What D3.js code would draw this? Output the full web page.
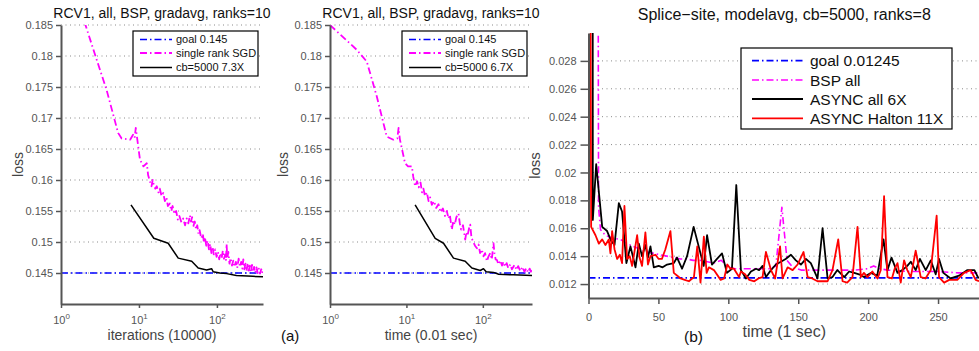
<!DOCTYPE html>
<html>
<head>
<meta charset="utf-8">
<script src="https://cdn.jsdelivr.net/npm/d3@7"></script>
<style>
body { margin: 0; background: #fff; }
svg { font-family: "Liberation Sans", Arial, Helvetica, sans-serif; }
</style>
</head>
<body>
<div id="chart"></div>
<script>
// goal levels
const goalRcv = 0.145
const goalSplice = 0.01245

// tick values
const rcvYTicks = [0.145, 0.15, 0.155, 0.16, 0.165, 0.17, 0.175, 0.18, 0.185]
const logXTicks = [1, 10, 100]
const spliceYTicks = [0.012, 0.014, 0.016, 0.018, 0.02, 0.022, 0.024, 0.026, 0.028]
const spliceXTicks = [0, 50, 100, 150, 200, 250]

// (a) left: loss vs iterations (10000)
const sgdIter = [[2.0,0.1855],[2.87,0.1794],[3.85,0.1745],[5.4,0.1676],[6.0,0.1667],[7.7,0.1665],[8.4,0.1673],[8.8,0.1668],[9.1,0.1684],
    [10.3,0.1633],[11.4,0.1622],[12.6,0.1627],[13.1,0.1608],[13.8,0.1598],[14.5,0.159],[15.0,0.16],[15.5,0.1592],[16.2,0.1586],
    [16.9,0.159],[17.8,0.158],[18.5,0.1586],[19.5,0.1574],[20.5,0.1579],[21.5,0.1566],[22.5,0.1572],[23.5,0.1558],[24.9,0.1562],
    [26,0.155],[27,0.1558],[28.5,0.1545],[30,0.155],[31.5,0.1536],[33,0.1542],[35,0.1532],[37,0.1538],[39,0.1527],[41,0.1538],
    [43,0.153],[45,0.1543],[46.5,0.1533],[48,0.154],[50,0.1526],[52,0.1533],[54,0.152],[56,0.1527],[58,0.1513],[60,0.1519],
    [63,0.1506],[66,0.1513],[68,0.15],[70,0.1508],[73,0.1494],[76,0.1502],[79,0.1488],[82,0.1497],[85,0.1482],[88,0.1492],
    [91,0.148],[95,0.1488],[99,0.1476],[103,0.1484],[107,0.1472],[111,0.1482],[115,0.1474],[119,0.1486],[123,0.1473],
    [128,0.148],[131,0.147],[133,0.1497],[136,0.1474],[140,0.1484],[145,0.1465],[150,0.1474],[156,0.1462],[162,0.147],
    [168,0.146],[175,0.1468],[182,0.1458],[190,0.1473],[197,0.146],[205,0.1468],[212,0.1457],[218,0.1472],[225,0.1456],
    [232,0.1465],[240,0.1453],[248,0.1466],[256,0.1454],[265,0.1462],[273,0.1451],[282,0.1463],[290,0.1452],[300,0.146],
    [310,0.145],[322,0.1459],[333,0.145],[345,0.1457],[357,0.1449],[370,0.1456],[380,0.145],[390,0.1454]]
const cbIter = [[7.9,0.156],[15.5,0.1506],[23.7,0.1498],[31.9,0.1474],[47.5,0.1469],[57.5,0.1458],[73.7,0.1455],[85.4,0.1457],
    [89.6,0.1452],[109,0.145],[133,0.1449],[178,0.1446],[290,0.14446],[390,0.1444]]

// (a) right: loss vs time (0.01 sec)
const sgdTime = [[1,0.185],[2.24,0.181],[3.03,0.1791],[4.09,0.1735],[5.53,0.167],[6.75,0.1665],[7.6,0.1667],[7.9,0.1684],[8.2,0.1666],
    [9.6,0.1627],[10.5,0.1622],[11.8,0.1622],[12.3,0.1605],[13,0.159],[13.8,0.1598],[14.5,0.1588],[15.3,0.1596],[16,0.158],
    [16.7,0.1586],[17.5,0.1574],[18.5,0.158],[19.5,0.1566],[20.4,0.1572],[21.5,0.156],[23,0.1566],[24.5,0.1555],[26.3,0.1561],
    [28,0.1548],[30,0.1554],[32,0.1542],[33.8,0.155],[35.5,0.1538],[37,0.1544],[39.3,0.152],[41,0.1534],[43,0.1528],[45,0.154],
    [48,0.1546],[50,0.153],[52,0.152],[55,0.1527],[58.8,0.1504],[61,0.1516],[63,0.151],[66,0.1522],[68.4,0.1528],[71,0.1507],
    [75,0.15],[79,0.1494],[83.7,0.149],[88,0.1496],[92,0.1482],[97,0.1488],[102,0.1477],[107,0.1482],[113,0.1469],[118,0.1476],
    [125,0.1482],[131,0.1472],[138,0.1498],[142,0.1482],[147,0.1472],[153,0.1471],[160,0.1464],[170,0.147],[178,0.1462],
    [186,0.1468],[195,0.146],[205,0.1466],[215,0.1458],[229,0.1464],[240,0.1456],[260,0.1463],[275,0.1455],[290,0.1461],
    [310,0.1453],[330,0.146],[350,0.1452],[370,0.1458],[390,0.1451],[410,0.1457],[425,0.1452],[440,0.1455]]
const cbTime = [[13,0.156],[23.8,0.1506],[30.6,0.1498],[41.3,0.1474],[58.8,0.1469],[71.9,0.1458],[92.5,0.1454],[102,0.1457],
    [110.6,0.1452],[138,0.1451],[161,0.1448],[250,0.1447],[440,0.1446]]

// (b) Splice-site: loss vs time (1 sec)
const bspAll = [[6.9,0.035],[7.2,0.0175],[8.6,0.0159],[12,0.0155],[16.9,0.0153],[22.9,0.0152],[27.6,0.0149],[32,0.0147],[37,0.0145],
    [42,0.0143],[46.7,0.0142],[51,0.0141],[56,0.014],[61,0.0139],[65.7,0.0138],[70,0.0138],[75,0.0137],[80,0.0137],[85,0.0136],
    [89.5,0.0135],[95,0.0137],[100,0.0132],[105,0.0131],[110,0.0131],[120,0.0131],[130,0.0131],[134,0.0133],[138.3,0.0175],
    [142,0.0137],[146,0.0132],[152,0.013],[160,0.013],[170,0.013],[180,0.013],[190,0.013],[199.5,0.0131],[204,0.0133],
    [208,0.0131],[214,0.013],[230,0.0129],[250,0.0129],[265,0.0128],[280,0.0128]]
const asyncAll = [[3.0,0.035],[3.1,0.0166],[5.5,0.0206],[9.8,0.0161],[13.3,0.0158],[16.2,0.0151],[18.6,0.0148],[21.7,0.0178],
    [24,0.0172],[27.1,0.0135],[30,0.0147],[33.6,0.0132],[36,0.0149],[38.3,0.014],[40.7,0.0148],[42.5,0.0139],[44.3,0.0147],
    [46.7,0.0132],[50.2,0.0133],[53,0.0132],[56.2,0.0134],[61,0.0135],[63.3,0.0139],[66.9,0.0131],[70.5,0.014],[75.2,0.0161],
    [78.8,0.0147],[82.4,0.0133],[84.8,0.0155],[88.3,0.0134],[91.9,0.0138],[95.5,0.0142],[99,0.0128],[102.6,0.0131],
    [105.7,0.0191],[109,0.013],[112.6,0.0124],[116.2,0.0129],[119.8,0.0131],[122,0.013],[124.5,0.0133],[126.9,0.0125],
    [130.5,0.013],[134,0.0134],[137.6,0.0136],[141,0.0138],[144.8,0.0141],[148.3,0.0137],[151.9,0.0134],[155.5,0.0138],
    [159,0.0135],[163.8,0.0124],[167.4,0.016],[171,0.0124],[174.5,0.0125],[178,0.013],[182.9,0.0125],[186.4,0.0129],
    [190,0.0128],[193.5,0.0127],[197,0.0125],[201.9,0.0128],[206.5,0.0126],[211,0.0152],[213.8,0.013],[216.7,0.0139],
    [221,0.0128],[224.5,0.013],[228,0.0133],[230.5,0.0136],[234,0.013],[237,0.0138],[241.2,0.013],[244.8,0.0137],
    [248.3,0.0127],[250.7,0.0138],[253.8,0.0128],[259,0.0124],[265,0.0126],[271,0.013],[276,0.013],[279,0.0124]]
const asyncHalton = [[1.4,0.035],[1.9,0.0161],[5,0.0155],[7.4,0.0149],[9.8,0.0152],[12.1,0.0148],[14.5,0.0152],[15.7,0.0142],
    [16.9,0.0158],[18.6,0.0145],[20.5,0.0138],[22.4,0.0141],[24,0.0135],[25.7,0.0176],[27.6,0.0138],[29.5,0.014],[31.2,0.0133],
    [34.8,0.0155],[36.5,0.0139],[38.3,0.0133],[40.7,0.0157],[42.5,0.0134],[44.3,0.014],[47.9,0.0141],[50.2,0.0138],
    [52.5,0.0138],[55,0.0145],[58.6,0.0158],[61,0.0128],[63.5,0.0126],[65.8,0.0124],[68.8,0.0123],[71.8,0.0122],[75.4,0.0125],
    [77.8,0.0147],[80.1,0.0121],[82.5,0.0154],[84.5,0.0128],[86.1,0.0132],[89.7,0.013],[94.5,0.0123],[97,0.0124],[99.3,0.0134],
    [101.5,0.0131],[104,0.0131],[107.7,0.0125],[109,0.0129],[112,0.0127],[115,0.0123],[118.6,0.0122],[121.5,0.0124],
    [124.5,0.0125],[126.9,0.0143],[130.5,0.013],[133.5,0.0124],[137,0.0147],[138.8,0.0124],[142.4,0.0132],[146,0.013],
    [149.5,0.0134],[153.8,0.0143],[156.7,0.0125],[160,0.0124],[163.8,0.0122],[167.5,0.0122],[171,0.0122],[174.5,0.013],
    [178.6,0.0152],[181.7,0.0122],[185,0.0121],[188.8,0.0125],[192.4,0.0161],[194.8,0.0125],[197,0.0128],[199.5,0.0125],
    [203,0.0129],[206.7,0.0124],[209,0.013],[211.4,0.0183],[213.8,0.0125],[217,0.0124],[219,0.0131],[221,0.0135],
    [223.3,0.0121],[225.7,0.0137],[228,0.013],[230.5,0.0125],[234,0.0144],[237.6,0.0125],[241,0.0124],[244.8,0.013],
    [249,0.0169],[250.7,0.0125],[254.3,0.0121],[258,0.0123],[263.8,0.0123],[268.6,0.0128],[273.3,0.013],[276.9,0.0123],
    [279.3,0.0122]]

const dashDot = '7,3,1.5,3'

let svg = d3.select('#chart').append('svg')
    .attr('width', 979)
    .attr('height', 351)

function drawPanel(p) {
    let g = svg.append('g')
    let xr = p.x.range(), yr = p.y.range()

    // dotted horizontal grid
    g.selectAll('line.grid')
        .data(p.yTicks)
        .enter()
        .append('line')
        .attr('x1', xr[0]).attr('x2', xr[1])
        .attr('y1', d => p.y(d)).attr('y2', d => p.y(d))
        .attr('stroke', '#8a8a8a')
        .attr('stroke-width', 1)
        .attr('stroke-dasharray', '1,3.5')

    svg.append('clipPath').attr('id', 'clip' + p.id)
        .append('rect')
        .attr('x', xr[0]).attr('y', yr[1])
        .attr('width', xr[1] - xr[0]).attr('height', yr[0] - yr[1])

    let line = d3.line()
        .x(d => p.x(d[0]))
        .y(d => p.y(d[1]))

    p.series.forEach(function (s) {
        g.append('path')
            .attr('clip-path', 'url(#clip' + p.id + ')')
            .attr('d', line(s.data))
            .attr('fill', 'none')
            .attr('stroke', s.color)
            .attr('stroke-width', s.width)
            .attr('stroke-dasharray', s.dash)
            .attr('stroke-linejoin', 'round')
    })

    // axes
    let xg = g.append('g')
        .attr('transform', 'translate(0,' + yr[0] + ')')
        .call(d3.axisBottom(p.x).tickValues(p.xTicks).tickSize(p.xTickLen).tickSizeOuter(0).tickPadding(p.xPad))
    let yg = g.append('g')
        .attr('transform', 'translate(' + xr[0] + ',0)')
        .call(d3.axisLeft(p.y).tickValues(p.yTicks).tickSize(p.yTickLen).tickSizeOuter(0).tickPadding(p.yPad)
            .tickFormat(d => String(+d.toFixed(4))))
    ;[xg, yg].forEach(function (ax) {
        ax.attr('font-family', null).attr('font-size', null)
        ax.select('.domain').attr('stroke', '#555').attr('stroke-width', 2)
        ax.selectAll('.tick line').attr('stroke', '#555').attr('stroke-width', 1.5)
        ax.selectAll('.tick text').attr('fill', '#555').attr('font-size', '11px')
    })
    if (p.log) {
        xg.selectAll('.tick text').text(null).each(function (d) {
            let t = d3.select(this)
            t.append('tspan').text('10')
            t.append('tspan').attr('dy', '-0.55em').attr('font-size', '8px').text(Math.round(Math.log10(d)))
        })
    }

    // title and labels
    g.append('text')
        .attr('x', (xr[0] + xr[1]) / 2).attr('y', p.titleY)
        .attr('text-anchor', 'middle')
        .attr('font-size', p.titleSize + 'px')
        .attr('fill', '#111')
        .text(p.title)
    g.append('text')
        .attr('x', (xr[0] + xr[1]) / 2).attr('y', p.xlabelY)
        .attr('text-anchor', 'middle')
        .attr('font-size', p.labelSize + 'px')
        .attr('fill', '#444')
        .text(p.xlabel)
    g.append('text')
        .attr('transform', 'translate(' + p.ylabelX + ',' + (yr[0] + yr[1]) / 2 + ') rotate(-90)')
        .attr('text-anchor', 'middle')
        .attr('font-size', p.ylabelSize + 'px')
        .attr('fill', '#444')
        .text('loss')

    // legend
    let L = p.legend
    let lg = g.append('g')
    lg.append('rect')
        .attr('x', L.x).attr('y', L.y).attr('width', L.w).attr('height', L.h)
        .attr('fill', '#fff').attr('stroke', '#000').attr('stroke-width', 1.2)
    p.series.forEach(function (s, i) {
        lg.append('line')
            .attr('x1', L.x + L.lineX1).attr('x2', L.x + L.lineX2)
            .attr('y1', L.rows[i]).attr('y2', L.rows[i])
            .attr('stroke', s.color).attr('stroke-width', s.width)
            .attr('stroke-dasharray', s.dash)
        lg.append('text')
            .attr('x', L.x + L.textX).attr('y', L.rows[i])
            .attr('dy', '0.36em')
            .attr('font-size', L.fontSize + 'px')
            .attr('fill', '#111')
            .text(s.label)
    })
}

let yRcv = d3.scaleLinear().domain([0.14, 0.185]).range([304, 25])
let xIter = d3.scaleLog().domain([1, 390]).range([61, 263])
let xTime = d3.scaleLog().domain([1, 440]).range([330, 532])
let xSplice = d3.scaleLinear().domain([0, 280]).range([588.5, 980])
let ySplice = d3.scaleLinear().domain([0.011, 0.03]).range([298, 33])

let smallLegend = { w: 125, h: 45, rows: [39.5, 53, 67.5], lineX1: 7, lineX2: 39, textX: 43, fontSize: 11 }

drawPanel({
    id: 'iter', x: xIter, y: yRcv, log: true,
    xTicks: logXTicks, yTicks: rcvYTicks,
    xTickLen: 4, xPad: 8, yTickLen: 5, yPad: 3,
    title: 'RCV1, all, BSP, gradavg, ranks=10', titleSize: 14, titleY: 18,
    xlabel: 'iterations (10000)', xlabelY: 340, labelSize: 14,
    ylabelX: 23, ylabelSize: 14,
    legend: Object.assign({ x: 133, y: 31 }, smallLegend),
    series: [
        { label: 'goal 0.145', data: [[1, goalRcv], [390, goalRcv]], color: '#0000ff', width: 1.5, dash: dashDot },
        { label: 'single rank SGD', data: sgdIter, color: '#ff00ff', width: 1.8, dash: dashDot },
        { label: 'cb=5000 7.3X', data: cbIter, color: '#000', width: 1.5, dash: null }
    ]
})

drawPanel({
    id: 'time', x: xTime, y: yRcv, log: true,
    xTicks: logXTicks, yTicks: rcvYTicks,
    xTickLen: 4, xPad: 8, yTickLen: 5, yPad: 3,
    title: 'RCV1, all, BSP, gradavg, ranks=10', titleSize: 14, titleY: 18,
    xlabel: 'time (0.01 sec)', xlabelY: 340, labelSize: 14,
    ylabelX: 288, ylabelSize: 14,
    legend: Object.assign({ x: 402, y: 31 }, smallLegend),
    series: [
        { label: 'goal 0.145', data: [[1, goalRcv], [440, goalRcv]], color: '#0000ff', width: 1.5, dash: dashDot },
        { label: 'single rank SGD', data: sgdTime, color: '#ff00ff', width: 1.8, dash: dashDot },
        { label: 'cb=5000 6.7X', data: cbTime, color: '#000', width: 1.5, dash: null }
    ]
})

drawPanel({
    id: 'splice', x: xSplice, y: ySplice, log: false,
    xTicks: spliceXTicks, yTicks: spliceYTicks,
    xTickLen: 6, xPad: 9, yTickLen: 8, yPad: 4,
    title: 'Splice\u2212site, modelavg, cb=5000, ranks=8', titleSize: 16, titleY: 20,
    xlabel: 'time (1 sec)', xlabelY: 337, labelSize: 16,
    ylabelX: 540, ylabelSize: 15,
    legend: { x: 741, y: 48, w: 211, h: 81, rows: [60.7, 80, 99, 118.3], lineX1: 11, lineX2: 62, textX: 69, fontSize: 15.5 },
    series: [
        { label: 'goal 0.01245', data: [[0, goalSplice], [280, goalSplice]], color: '#0000ff', width: 1.8, dash: dashDot },
        { label: 'BSP all', data: bspAll, color: '#ff00ff', width: 1.6, dash: dashDot },
        { label: 'ASYNC all 6X', data: asyncAll, color: '#000', width: 1.8, dash: null },
        { label: 'ASYNC Halton 11X', data: asyncHalton, color: '#ff0000', width: 1.8, dash: null }
    ]
})

svg.append('text').attr('x', 281).attr('y', 341).attr('font-size', '15px').attr('fill', '#111').text('(a)')
svg.append('text').attr('x', 684).attr('y', 342).attr('font-size', '15.5px').attr('fill', '#111').text('(b)')
</script>
</body>
</html>
